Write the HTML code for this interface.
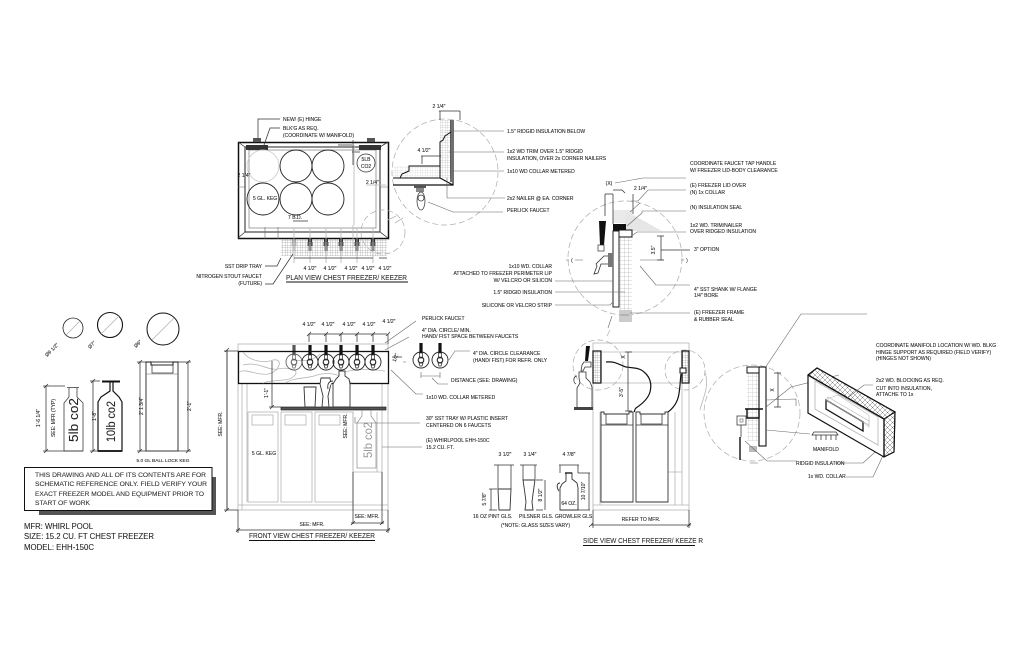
<!DOCTYPE html>
<html><head><meta charset="utf-8"><style>
html,body{margin:0;padding:0;background:#fff}
svg{display:block}
text{font-family:"Liberation Sans",sans-serif;font-size:5px;fill:#222;stroke:#222;stroke-width:.08}
.e{text-anchor:end}.m{text-anchor:middle}
.b{fill:none;stroke:#111;stroke-width:1.5}
.n{fill:none;stroke:#333;stroke-width:.75}
.g{fill:none;stroke:#b5b5b5;stroke-width:.8}
.l{fill:none;stroke:#666;stroke-width:.6}
.d{fill:none;stroke:#aaa;stroke-width:.7;stroke-dasharray:6 3}
.big{font-size:8px;fill:#222}
.ti{font-size:7.2px;fill:#333}
.disc{font-size:6.8px;fill:#333}
</style></head><body>
<svg width="1024" height="663" viewBox="0 0 1024 663" xmlns="http://www.w3.org/2000/svg">
<defs>
<pattern id="gr" width="4" height="4" patternUnits="userSpaceOnUse"><path d="M4 0H0V4" fill="none" stroke="#999" stroke-width=".5"/></pattern>
<pattern id="gf" width="2.5" height="2.5" patternUnits="userSpaceOnUse"><path d="M2.5 0H0V2.5" fill="none" stroke="#888" stroke-width=".5"/></pattern>
<pattern id="xh" width="5" height="5" patternUnits="userSpaceOnUse"><path d="M0 0L5 5M5 0L0 5" fill="none" stroke="#777" stroke-width=".5"/></pattern>
<g id="fp"><rect x="-2" y="0" width="4" height="3" fill="#333"/><rect x="-2.5" y="3" width="5" height="4" fill="#555"/><rect x="-1.5" y="7" width="3" height="5" fill="#777"/></g>
<g id="ff"><circle r="8" fill="none" stroke="#222" stroke-width=".9"/><rect x="-1.6" y="-17" width="3.2" height="10" fill="#111"/><circle r="2.8" fill="none" stroke="#222" stroke-width="1.100"/><rect x="-1.5" y="-7" width="3" height="5" fill="none" stroke="#222" stroke-width=".7"/><path d="M-2 3h4l-1 3h-2z" fill="none" stroke="#222" stroke-width=".7"/></g>
</defs>

<!-- PLAN VIEW -->
<rect x="281" y="238" width="106" height="18" fill="url(#gf)"/>
<rect x="238.500" y="142.500" width="150" height="96" class="b"/>
<rect x="245" y="147" width="135" height="85" fill="none" stroke="#222" stroke-width="1"/>
<rect x="249" y="150" width="127" height="78" class="l"/>
<path d="M238 142l7 5M388 142l-8 5M238 238l7-6M388 238l-8-6" class="n"/>
<rect x="253" y="138" width="8" height="4" fill="#555"/><rect x="367" y="138" width="8" height="4" fill="#555"/>
<rect x="246" y="145" width="22" height="5" fill="#333"/><rect x="359" y="145" width="22" height="5" fill="#333"/>
<circle cx="263" cy="166" r="16" fill="none" stroke="#ccc" stroke-width=".8"/>
<circle cx="296" cy="166" r="16" fill="none" stroke="#222" stroke-width=".9"/><circle cx="328" cy="166" r="16" fill="none" stroke="#222" stroke-width=".9"/>
<circle cx="263" cy="199" r="16" fill="none" stroke="#222" stroke-width=".9"/><circle cx="296" cy="199" r="16" fill="none" stroke="#222" stroke-width=".9"/><circle cx="328" cy="199" r="16" fill="none" stroke="#222" stroke-width=".9"/>
<circle cx="366" cy="163" r="9" class="n"/>
<text x="366" y="161" class="m">5LB</text><text x="366" y="168" class="m">CO2</text>
<text x="253" y="200">5 GL. KEG</text>
<text x="295" y="219" class="m">7 B.D.</text><path d="M293 221h15" class="n"/>
<path d="M353 140v25M338 145h14M352 152h8" class="n"/>
<text x="244" y="177" class="m">2 1/4"</text><text x="366" y="184">2 1/4"</text>
<path d="M238 187h8M380 187h8M265 227v12M278 227v12" class="l"/>
<path d="M354 145v80M366 185h20M353 225v22" class="g"/>
<circle cx="383" cy="232" r="22" class="d"/>
<use href="#fp" x="294" y="239" opacity=".3"/><use href="#fp" x="310" y="239"/><use href="#fp" x="326" y="239"/><use href="#fp" x="341" y="239"/><use href="#fp" x="357" y="239"/><use href="#fp" x="373" y="239"/>
<path d="M294 228v35M310 228v35M326 228v35M341 228v35M357 228v35M373 228v35" class="g"/>
<path d="M294 258h79M379 258h8" class="n"/>
<text x="310" y="270" class="m">4 1/2"</text><text x="330" y="270" class="m">4 1/2"</text><text x="351" y="270" class="m">4 1/2"</text><text x="368" y="270" class="m">4 1/2"</text><text x="385" y="270" class="m">4 1/2"</text>
<text x="262" y="268" class="e">SST DRIP TRAY</text><path d="M265 266h12l4-8" class="n"/>
<text x="262" y="278" class="e">NITROGEN STOUT FAUCET</text><text x="262" y="285" class="e">(FUTURE)</text>
<path d="M265 284h8l20-30" class="n"/>
<text x="286" y="280" class="ti" textLength="121" lengthAdjust="spacingAndGlyphs">PLAN VIEW CHEST FREEZER/ KEEZER</text>
<path d="M286 282h122" stroke="#111" stroke-width="1" fill="none"/>
<text x="283" y="121">NEW/ (E) HINGE</text><path d="M280 119h-22v19" class="n"/>
<text x="283" y="130">BLK'G AS REQ.</text><text x="283" y="137">(COORDINATE W/ MANIFOLD)</text><path d="M280 128h-10l-6 17" class="n"/>

<!-- DETAIL 1 -->
<circle cx="445" cy="172" r="53" class="d"/>
<rect x="440" y="120" width="11" height="58" fill="url(#gf)" opacity=".7"/>
<rect x="393" y="166" width="47" height="12" fill="url(#gf)" opacity=".4"/>
<path d="M453 120v65H393M451 120v62M453 185l-13-7" fill="none" stroke="#111" stroke-width="1.200"/>
<path d="M451 120V132L445 136 443 140 440 142V178H400L402 174 409 171V166H440M393 178h7" fill="none" stroke="#111" stroke-width="1"/>
<rect x="414" y="185" width="12" height="3" fill="#555"/><rect x="416" y="188" width="8" height="4" fill="#888"/>
<ellipse cx="421" cy="201" rx="4" ry="9" class="n"/><circle cx="421" cy="198" r="3" class="n"/>
<text x="439" y="108" class="m">2 1/4"</text><path d="M439 111h21M440 111v9M460 111v9" class="n"/>
<text x="424" y="152" class="m">4 1/2"</text><path d="M421 156h20M422 156v8" class="n"/>
<path d="M449 131h55M449 152h55M450 171h54M447 178v20h58M428 202l25 10h50" class="l"/>
<text x="507" y="133">1.5" RIDGID INSULATION BELOW</text>
<text x="507" y="153">1x2 WD TRIM OVER 1.5" RIDGID</text><text x="507" y="160">INSULATION, OVER 2x CORNER NAILERS</text>
<text x="507" y="173">1x10 WD COLLAR METERED</text>
<text x="507" y="200">2x2 NAILER @ EA. CORNER</text>
<text x="507" y="212">PERLICK FAUCET</text>
<path d="M396 216l-8 4M403 218l-8 5" class="g"/>

<!-- FAUCET DETAIL -->
<circle cx="625" cy="258" r="57" class="d"/>
<path d="M613 210h19v13h-19z" fill="#eaeaea"/><path d="M626 211l36 20h-38z" fill="#e6e6e6"/>
<rect x="619" y="237" width="13" height="73" fill="url(#gr)"/><rect x="619" y="310" width="13" height="12" fill="#ccc"/>
<rect x="613" y="224" width="13" height="7" fill="#111"/>
<rect x="619" y="230" width="13" height="7" fill="#fff" stroke="#111" stroke-width="1"/>
<rect x="613" y="231" width="6" height="76" fill="#fff" stroke="#222" stroke-width="1"/>
<path d="M599 221h7l-2 24h-4z" fill="#111"/>
<rect x="598" y="245" width="6" height="6" fill="#fff" stroke="#333" stroke-width=".7"/>
<path d="M604 256h4l5-1v10l-5-1h-7l-2 6-1 3-4 1 3-8-1-2z" fill="#fff" stroke="#333" stroke-width=".8"/>
<rect x="608" y="253" width="5" height="14" fill="#777"/>
<path d="M575 260h8M640 260h24M566 260h3M681 260h3" class="l"/>
<text x="572" y="262" class="m">(</text><text x="687" y="262" class="m">)</text>
<path d="M605 194v22M613 194v30M633 194v20M605 194h8M613 190h9l3 3" class="n"/>
<text x="609" y="185" class="m">(X)</text><path d="M615 183l28-5h43" class="l"/>
<text x="634" y="190">2 1/4"</text>
<path d="M631 201l7 0 10-11h38M630 212l10-9M627 226l15-13v-2h44M633 235l4-3h49M640 266l16 19h34M620 315h9" class="l"/>
<path d="M630 313h60" class="l"/>
<path d="M661 236v24M657 236h7M657 260h7M661 250h29" class="n"/>
<text x="655" y="250" class="m" transform="rotate(-90 655 250)">3.5"</text>
<text x="690" y="165">COORDINATE FAUCET TAP HANDLE</text><text x="690" y="172">W/ FREEZER LID-BODY CLEARANCE</text>
<text x="690" y="187">(E) FREEZER LID OVER</text><text x="690" y="194">(N) 1x COLLAR</text>
<text x="690" y="209">(N) INSULATION SEAL</text>
<text x="690" y="227">1x2 WD. TRIM/NAILER</text><text x="690" y="233">OVER RIDGED INSULATION</text>
<text x="694" y="251">3"  OPTION</text>
<text x="694" y="291">4" SST SHANK W/ FLANGE</text><text x="694" y="297">1/4" BORE</text>
<text x="694" y="314">(E) FREEZER FRAME</text><text x="694" y="321">&amp; RUBBER SEAL</text>
<text x="552" y="268" class="e">1x10 WD. COLLAR</text><text x="552" y="275" class="e">ATTACHED TO FREEZER PERIMETER LIP</text><text x="552" y="282" class="e">W/ VELCRO OR SILICON</text>
<text x="552" y="294" class="e">1.5" RIDGID INSULATION</text><text x="552" y="307" class="e">SILICONE OR VELCRO STRIP</text>
<path d="M555 281h58M555 292h70M555 305h55l3-3M612 316l-4 12" class="l"/>

<!-- LEFT: CIRCLES, BOTTLES -->
<circle cx="73" cy="328" r="10" fill="none" stroke="#222" stroke-width=".8"/><path d="M66 335l14-14" class="g"/>
<circle cx="110" cy="325" r="12.500" fill="none" stroke="#111" stroke-width="1.100"/><path d="M101 334l18-18" class="g"/>
<circle cx="163" cy="329" r="16" fill="none" stroke="#111" stroke-width="1"/><path d="M152 340l22-22" class="g"/>
<text x="53" y="351" class="m" transform="rotate(-45 53 351)">Ø9 1/2"</text>
<text x="93" y="346" class="m" transform="rotate(-45 93 346)">Ø7"</text>
<text x="139" y="345" class="m" transform="rotate(-45 139 345)">Ø9"</text>
<path d="M67 387.500h12M69 388v5M77 388v5M69 393v4l-5 6v48h19v-48l-6-6v-4" class="n"/>
<path d="M64 451h19" class="n"/>
<text x="78" y="442" style="font-size:12.500px;fill:#222" textLength="44" lengthAdjust="spacingAndGlyphs" transform="rotate(-90 78 442)">5lb co2</text>
<path d="M102 381.500h18" stroke="#111" stroke-width="2"/><path d="M110 382v9l-9 6-3 5v49h24v-49l-3-5-6-6v-9" fill="none" stroke="#111" stroke-width="1.200"/>
<path d="M98 451h24" stroke="#111" stroke-width="1.800"/>
<text x="115" y="442" style="font-size:11.500px;fill:#222" textLength="41" lengthAdjust="spacingAndGlyphs" transform="rotate(-90 115 442)">10lb co2</text>
<rect x="146" y="362" width="32" height="89" fill="none" stroke="#222" stroke-width=".9"/>
<path d="M146 362h5v3h22v-3h5" fill="none" stroke="#111" stroke-width="1"/><rect x="152" y="365" width="21" height="8" class="n"/>
<path d="M146 374h32" class="l"/>
<path d="M46 386v65M43 386h22M43 451h22M93 381v70M90 381h10M90 451h8M140 362v89M137 362h9M137 451h9M188 362v89M178 362h13M178 451h13M227 350v160" class="n"/>
<path d="M44 388l4-4M44 453l4-4M91 383l4-4M91 453l4-4M138 364l4-4M138 453l4-4M186 364l4-4M186 453l4-4M225 352l4-4M225 512l4-4" class="n"/>
<text x="40" y="418" class="m" transform="rotate(-90 40 418)">1'-6 1/4"</text>
<text x="55" y="418" class="m" transform="rotate(-90 55 418)">SEE: MFR (TYP)</text>
<text x="96" y="416" class="m" transform="rotate(-90 96 416)">1'-8"</text>
<text x="143" y="406" class="m" transform="rotate(-90 143 406)">2' 1 3/4"</text>
<text x="191" y="406" class="m" transform="rotate(-90 191 406)">2'-1"</text>
<text x="222" y="424" class="m" transform="rotate(-90 222 424)">SEE: MFR.</text>
<text x="163" y="462" class="m" style="font-size:4.800px">5.0 GL BALL LOCK KEG</text>

<rect x="39" y="477" width="177" height="38" fill="#555"/>
<rect x="24.500" y="467.500" width="187.500" height="43" fill="#fff" stroke="#111" stroke-width="1"/>
<text x="35" y="477" class="disc" textLength="171" lengthAdjust="spacingAndGlyphs">THIS DRAWING AND ALL OF ITS CONTENTS ARE FOR</text>
<text x="35" y="486" class="disc" textLength="172" lengthAdjust="spacingAndGlyphs">SCHEMATIC REFERENCE ONLY.  FIELD VERIFY YOUR</text>
<text x="35" y="496" class="disc" textLength="169" lengthAdjust="spacingAndGlyphs">EXACT FREEZER MODEL AND EQUIPMENT PRIOR TO</text>
<text x="35" y="505" class="disc" textLength="55" lengthAdjust="spacingAndGlyphs">START OF WORK</text>
<text x="24" y="529" class="big" textLength="69" lengthAdjust="spacingAndGlyphs">MFR: WHIRL POOL</text>
<text x="24" y="539" class="big" textLength="130" lengthAdjust="spacingAndGlyphs">SIZE: 15.2 CU. FT CHEST FREEZER</text>
<text x="24" y="550" class="big" textLength="70" lengthAdjust="spacingAndGlyphs">MODEL: EHH-150C</text>

<!-- FRONT VIEW -->
<rect x="238" y="344" width="150" height="166" class="g"/>
<path d="M242 383v127M247 383v119M382 383v127M377 412v60M238 505h150" class="g"/>
<path d="M353 472h29v38M353 412v98" class="g"/>
<rect x="248" y="412" width="30" height="90" class="g"/><rect x="281" y="412" width="31" height="90" class="g"/><rect x="315" y="412" width="38" height="90" class="g"/>
<rect x="252" y="415" width="21" height="10" class="g"/><rect x="285" y="415" width="21" height="10" class="g"/><rect x="319" y="415" width="21" height="10" class="g"/>
<rect x="238.500" y="351.500" width="150" height="32" fill="#fff" stroke="#111" stroke-width="1.300"/>
<path d="M243 352c5 8 20 12 30 8 12-2 5 13-5 14-10 2-22-6-29-2M243 365c15-4 25 6 35 4 8-2 25 0 15 8-6 5-20 2-30 6M285 383c10-6 22-4 32-8 10-3 22-2 35 8M320 354c-6 6-14 8-26 6M345 372c10-3 25-3 40-1" class="g"/>
<use href="#ff" x="294" y="362" opacity=".7"/><use href="#ff" x="310" y="362"/><use href="#ff" x="326" y="362"/><use href="#ff" x="341" y="362"/><use href="#ff" x="357" y="362"/><use href="#ff" x="373" y="362"/>
<rect x="281" y="407" width="105" height="3" fill="#555" stroke="#111" stroke-width=".6"/>
<path d="M304 387h12l-1 20h-10z" fill="#fff" stroke="#333" stroke-width=".9"/>
<path d="M321 378h9l1 6-3 12 1 11h-7l1-11-3-12z" fill="#fff" stroke="#333" stroke-width=".9"/>
<path d="M339 371h6v5l4 3 1 5v23h-17v-23l3-5 3-3zM333 381c-4 0-6 3-5 8" fill="#fff" stroke="#333" stroke-width=".9"/>
<path d="M362 410v6l-5 7v45h19v-45l-5-7v-6" class="g" style="stroke:#999"/>
<text x="372" y="458" style="font-size:12px;fill:#999;stroke:none" textLength="36" lengthAdjust="spacingAndGlyphs" transform="rotate(-90 372 458)">5lb co2</text>
<path d="M227 351v159M224 351h14M224 510h14M238 510v23M388 510v23M236 530h154M353 472v52M382 472v52M351 523h33M272 361v46M269 407h12M309 334h78M309 334v8M326 334v8M341 334v8M357 334v8M373 334v8M388 334v10" class="n"/>
<path d="M236 532l4-4M386 532l4-4M351 525l4-4M380 525l4-4M307 336l4-4M324 336l4-4M339 336l4-4M355 336l4-4M371 336l4-4M386 336l4-4M270 409l4-4" class="n"/>
<text x="268" y="393" class="m" transform="rotate(-90 268 393)">1'-1"</text>
<text x="347" y="426" class="m" transform="rotate(-90 347 426)">SEE: MFR.</text>
<text x="312" y="526" class="m">SEE: MFR.</text><text x="367" y="518" class="m">SEE: MFR.</text>
<text x="264" y="455" class="m">5 GL. KEG</text>
<text x="309" y="326" class="m">4 1/2"</text><text x="328" y="326" class="m">4 1/2"</text><text x="349" y="326" class="m">4 1/2"</text><text x="369" y="326" class="m">4 1/2"</text><text x="389" y="323" class="m">4 1/2"</text>
<text x="397" y="358" class="m" transform="rotate(-70 397 358)">1/2"</text>
<path d="M385 343l31-22M385 350l24-13M391 370l25 24h7M355 417v6h65M382 447h40" class="l"/>
<path d="M392 357l10 0" class="n"/>
<text x="249" y="538" class="ti" textLength="126" lengthAdjust="spacingAndGlyphs">FRONT VIEW CHEST FREEZER/ KEEZER</text>
<path d="M249 540.500h126" stroke="#111" stroke-width="1" fill="none"/>

<!-- FRONT NOTES -->
<text x="422" y="320">PERLICK FAUCET</text>
<text x="422" y="332">4" DIA. CIRCLE/ MIN.</text><text x="422" y="338">HAND/ FIST SPACE BETWEEN FAUCETS</text>
<use href="#ff" x="421" y="360"/><use href="#ff" x="440" y="360"/>
<path d="M403 362h3M421 372v6M440 372v6M421 376h19M432 378l6 6h10M449 360l6-9 15-0" class="l"/>
<text x="473" y="355">4" DIA. CIRCLE CLEARANCE</text><text x="473" y="362">(HAND/ FIST) FOR REFR. ONLY</text>
<text x="451" y="382">DISTANCE (SEE: DRAWING)</text>
<text x="426" y="399">1x10 WD. COLLAR METERED</text>
<text x="426" y="420">30" SST TRAY W/ PLASTIC INSERT</text><text x="426" y="427">CENTERED ON 6 FAUCETS</text>
<text x="426" y="442">(E) WHIRLPOOL EHH-150C</text><text x="426" y="449">15.2 CU. FT.</text>

<!-- GLASSES -->
<path d="M498 489h13l-1 21h-11z" fill="none" stroke="#333" stroke-width=".9"/>
<path d="M523 480h12l-2 14-1 8 1 8h-8l1-8-1-8z" fill="none" stroke="#333" stroke-width=".9"/>
<path d="M566 473h6v6l5 4 1 5v22h-18v-22l2-4 4-3zM560 483c-3 0-4 4-1 8" fill="none" stroke="#333" stroke-width=".9"/>
<path d="M565 473h7" stroke="#111" stroke-width="1.300"/>
<text x="569" y="505" class="m">64 OZ.</text>
<text x="505" y="456" class="m">3 1/2"</text><text x="530" y="456" class="m">3 1/4"</text><text x="569" y="456" class="m">4 7/8"</text>
<path d="M494 465h20M498 465v24M511 465v24M520 465h17M523 465v15M535 465v15M559 465h20M560 465v8M578 465v8M491 489v21M489 489h8M489 510h8M545 480v30M543 480h-7M543 510h-7M589 473v37M578 473h12M578 510h12" class="n"/>
<text x="486" y="499" class="m" transform="rotate(-90 486 499)">5 7/8"</text>
<text x="542" y="495" class="m" transform="rotate(-90 542 495)">8 1/2"</text>
<text x="585" y="491" class="m" transform="rotate(-90 585 491)">10 7/10"</text>
<text x="473" y="518">16 OZ PINT GLS.</text><text x="519" y="518">PILSNER GLS.</text><text x="555" y="518">GROWLER GLS.</text>
<text x="501" y="527">(*NOTE: GLASS SIZES VARY)</text>

<!-- SIDE VIEW -->
<rect x="593" y="343" width="96" height="167" class="g"/>
<path d="M593 505h96M600 412v93M675 412v93M602 352h79M602 383h79M668 472h14M682 383v122" class="g"/>
<circle cx="598" cy="365" r="25" class="d"/><circle cx="685" cy="370" r="20" class="d"/>
<rect x="593" y="351" width="8" height="32" fill="url(#gf)" stroke="#111" stroke-width="1.200"/>
<rect x="682" y="351" width="7" height="32" fill="url(#gf)" stroke="#111" stroke-width="1.200"/>
<rect x="680" y="368" width="6" height="5" fill="#fff" stroke="#111" stroke-width="1"/>
<path d="M586 346h4l-2 15h-3z" fill="#111"/>
<path d="M584 362h7v5h-6l-2 4h-2l1-6z" fill="none" stroke="#333" stroke-width=".8"/>
<path d="M579 372h7v6l4 4 2 5v22h-15v-21l3-5-1-5zM577 376c-4 0-4 7-1 8" fill="none" stroke="#333" stroke-width=".8"/>
<rect x="574" y="407" width="19" height="3" fill="#444"/>
<path d="M606 362c10-1 13 3 20 5 8 1 14 1 18 5 6 5 8 12 6 20-2 7-8 12-14 16-2 2-1 3-2 4" fill="none" stroke="#111" stroke-width="1.200"/>
<path d="M681 374c-1 8-1 18-3 24-2 7-7 12-10 14" fill="none" stroke="#111" stroke-width="1.200"/>
<path d="M601 412h3v2h25v-2h4v90h-32zM636 412h4v2h25v-2h3v90h-32z" fill="none" stroke="#333" stroke-width=".9"/>
<rect x="606" y="414" width="21" height="10" class="n"/><rect x="641" y="414" width="21" height="10" class="n"/>
<path d="M601 425h32M636 425h32" class="n"/>
<path d="M628 352v59M625 352h7M625 411h7" class="n"/>
<text x="623" y="392" class="m" transform="rotate(-90 623 392)">3'-5"</text>
<text x="625" y="357" class="m" transform="rotate(-90 625 357)">X</text>
<path d="M593 510v18M689 510v18M591 525h100M589 527l4-4M687 527l4-4" class="n"/>
<text x="641" y="521" class="m">REFER TO MFR.</text>
<text x="583" y="543" class="ti" textLength="120" lengthAdjust="spacingAndGlyphs">SIDE VIEW CHEST FREEZER/ KEEZE R</text>
<path d="M583 545.500h112" stroke="#111" stroke-width="1" fill="none"/>
<path d="M610 330l-3 6M705 372c5 15-3 28-5 38" class="g"/>

<!-- MANIFOLD DETAIL -->
<circle cx="752" cy="413" r="48" class="d"/>
<rect x="747" y="373" width="12" height="68" fill="url(#gr)" opacity=".8"/>
<rect x="759" y="367" width="7" height="79" fill="#fff" stroke="#111" stroke-width="1.100"/>
<rect x="747" y="367" width="12" height="6" fill="#fff" stroke="#111" stroke-width="1"/>
<path d="M745 409h18M747 409v9h12v-9" fill="none" stroke="#111" stroke-width="1.400"/>
<rect x="737" y="416" width="9" height="9" class="n"/><rect x="740" y="419" width="3" height="3" class="l"/>
<path d="M741 425v12" class="n"/>
<path d="M740 437v23" stroke="#111" stroke-width="1.400" fill="none"/>
<rect x="749" y="446" width="8" height="6" fill="#bbb"/>
<path d="M766 400l30-1v7M766 430l44 4M745 441l22 20h30M758 463h-8M765 368l36-54h66M766 407l25-20 48-12M835 463h28l20-18M846 477h27l14-30" class="l"/>
<path d="M778 373v34M774 373h7M774 407h7" class="n"/>
<text x="774" y="390" class="m" transform="rotate(-90 774 390)">X</text>
<path d="M814 432h22l2 3h-26zM816 435v5M821 435v5M826 435v5M831 435v5M836 435v5" class="n"/>
<text x="813" y="451">MANIFOLD</text>
<polygon points="808,375 817,368 895,412 894,452 884,457 808,413" fill="#fff" stroke="#111" stroke-width="1.200"/>
<polygon points="808,375 817,368 895,412 884,419" fill="url(#xh)" stroke="#111" stroke-width="1"/>
<polygon points="884,419 895,412 894,452 884,457" fill="url(#xh)" stroke="#111" stroke-width="1"/>
<path d="M808 375l76 44v38" stroke="#111" stroke-width="1.400" fill="none"/>
<polygon points="815,381 878,417 878,445 815,409" class="g"/>
<polygon points="828,397 869,421 869,425 839,408 826,400" fill="none" stroke="#bbb" stroke-width=".7"/>
<polygon points="826,400 863,422 863,431 826,409" fill="#fff" stroke="#111" stroke-width="1.300"/>
<polygon points="830,398 838,395 869,415 869,427 863,422 826,400" fill="none" stroke="#bbb" stroke-width=".6"/>
<path d="M846 399l18-14h9" class="l"/>
<text x="876" y="347">COORDINATE MANIFOLD LOCATION W/ WD. BLKG</text>
<text x="876" y="354">HINGE SUPPORT AS REQUIRED (FIELD VERIFY)</text>
<text x="876" y="360">(HINGES NOT SHOWN)</text>
<text x="876" y="382">2x2 WD. BLOCKING AS REQ.</text><text x="876" y="390">CUT INTO INSULATION,</text><text x="876" y="396">ATTACHE TO 1x</text>
<text x="796" y="465">RIDGID INSULATION</text>
<text x="808" y="478">1x WD. COLLAR</text>
</svg>
</body></html>
